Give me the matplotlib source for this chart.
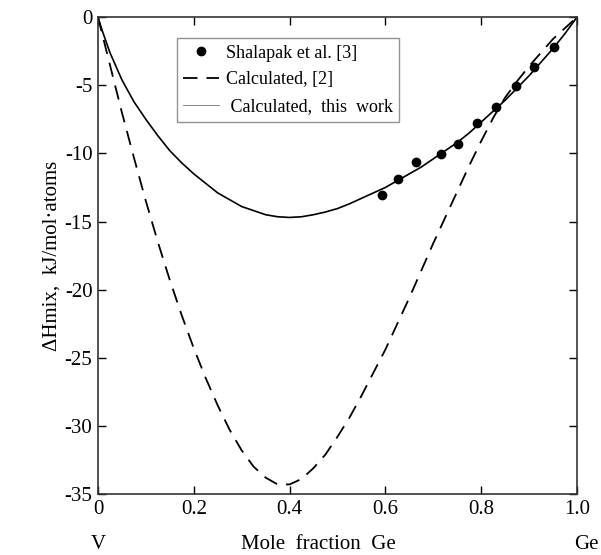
import numpy as np
import matplotlib.pyplot as plt

plt.rcParams['font.family'] = ['Liberation Serif', 'DejaVu Serif']

# experimental points (Shalapak et al.)
exp_x = [0.592, 0.627, 0.665, 0.716, 0.752, 0.791, 0.832, 0.872, 0.911, 0.952]
exp_h = [-13.06, -11.89, -10.62, -10.07, -9.34, -7.80, -6.58, -5.04, -3.69, -2.22]

# calculated, this work (solid)
this_x = [0.0, 0.01, 0.025, 0.05, 0.075, 0.1, 0.125, 0.15, 0.175, 0.2, 0.225, 0.25,
          0.275, 0.3, 0.325, 0.35, 0.375, 0.4, 0.425, 0.45, 0.475, 0.5, 0.525,
          0.55, 0.575, 0.6, 0.625, 0.65, 0.675, 0.7, 0.725, 0.75, 0.775, 0.8,
          0.825, 0.85, 0.875, 0.9, 0.925, 0.95, 0.975, 1.0]
this_h = [0.0, -1.1, -2.6, -4.6, -6.2, -7.5, -8.7, -9.8, -10.7, -11.5, -12.2, -12.9,
          -13.4, -13.9, -14.2, -14.5, -14.65, -14.7, -14.65, -14.5, -14.3, -14.05, -13.7,
          -13.3, -12.9, -12.5, -12.0, -11.5, -11.0, -10.4, -9.8, -9.2, -8.5, -7.7,
          -6.9, -6.1, -5.2, -4.3, -3.3, -2.3, -1.2, 0.0]

# calculated, ref [2] (dashed)
ref_x = [0.0, 0.015, 0.03, 0.05, 0.075, 0.1, 0.125, 0.15, 0.175, 0.2, 0.225, 0.25,
         0.275, 0.3, 0.325, 0.35, 0.375, 0.4, 0.425, 0.45, 0.475, 0.5, 0.525,
         0.55, 0.575, 0.6, 0.625, 0.65, 0.675, 0.7, 0.725, 0.75, 0.775, 0.8,
         0.825, 0.85, 0.875, 0.9, 0.925, 0.95, 0.975, 1.0]
ref_h = [0.0, -2.1, -4.2, -7.0, -10.3, -13.5, -16.5, -19.3, -21.9, -24.3, -26.5, -28.5,
         -30.3, -31.8, -33.0, -33.8, -34.3, -34.3, -33.9, -33.1, -32.1, -30.8, -29.4,
         -27.8, -26.1, -24.4, -22.5, -20.6, -18.6, -16.6, -14.7, -12.8, -10.9, -9.1,
         -7.4, -5.9, -4.7, -3.6, -2.6, -1.6, -0.8, 0.0]

xticks = [0, 0.2, 0.4, 0.6, 0.8, 1.0]
xtick_labels = ['0', '0.2', '0.4', '0.6', '0.8', '1.0']
yticks = [0, -5, -10, -15, -20, -25, -30, -35]

fig = plt.figure(figsize=(6.01, 5.55), dpi=100)
ax = fig.add_axes([0.163, 0.110, 0.797, 0.859])

ax.plot(exp_x, exp_h, 'o', color='black', markersize=6, label='Shalapak et al. [3]')
ax.plot(ref_x, ref_h, color='black', lw=1.3, dashes=(8, 5), label='Calculated, [2]')
ax.plot(this_x, this_h, color='black', lw=1.2, label=' Calculated,  this  work')

ax.set_xlim(0, 1.0)
ax.set_ylim(-35, 0)
ax.set_xticks(xticks)
ax.set_xticklabels(xtick_labels)
ax.set_yticks(yticks)
ax.set_yticklabels([str(v) if v == 0 else '-%d' % (-v) for v in yticks])
ax.tick_params(direction='in', length=6, width=1, top=True, right=True,
               labelsize=15, colors='black', pad=4)
for s in ax.spines.values():
    s.set_linewidth(1.2)
    s.set_color('#333333')

ax.set_ylabel('ΔHmix,  kJ/mol·atoms', fontsize=15, labelpad=2)
ax.text(0.0, -0.105, 'V', transform=ax.transAxes, ha='center', va='center', fontsize=15)
ax.text(0.46, -0.105, 'Mole  fraction  Ge', transform=ax.transAxes, ha='center', va='center', fontsize=15)
ax.text(1.02, -0.105, 'Ge', transform=ax.transAxes, ha='center', va='center', fontsize=15)

leg = ax.legend(loc='upper left', bbox_to_anchor=(0.165, 0.956), borderaxespad=0,
                fontsize=13, frameon=True, fancybox=False, edgecolor='#777777',
                handlelength=2.0, labelspacing=0.55, borderpad=0.35, handletextpad=0.35)
leg.get_frame().set_linewidth(1.0)
leg.get_lines()[2].set_linewidth(0.7)
leg.get_lines()[2].set_color('#888888')

fig.savefig('out.png', dpi=100)
